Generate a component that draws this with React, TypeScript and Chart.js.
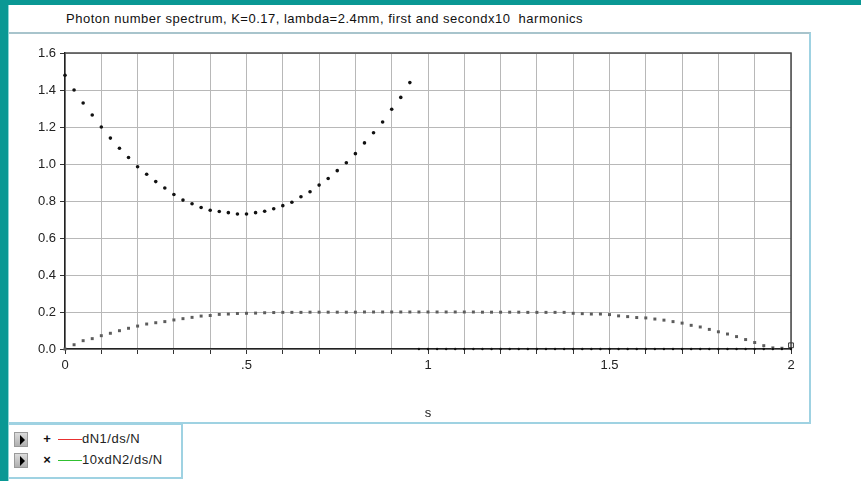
import React, { useEffect, useRef } from "react";
import { Chart, registerables } from "chart.js";

Chart.register(...registerables);

// Sample positions along s (step 0.025 from 0 to 2)
const sGrid = [
  0, 0.025, 0.05, 0.075, 0.1, 0.125, 0.15, 0.175, 0.2, 0.225,
  0.25, 0.275, 0.3, 0.325, 0.35, 0.375, 0.4, 0.425, 0.45, 0.475,
  0.5, 0.525, 0.55, 0.575, 0.6, 0.625, 0.65, 0.675, 0.7, 0.725,
  0.75, 0.775, 0.8, 0.825, 0.85, 0.875, 0.9, 0.925, 0.95, 0.975,
  1.0, 1.025, 1.05, 1.075, 1.1, 1.125, 1.15, 1.175, 1.2, 1.225,
  1.25, 1.275, 1.3, 1.325, 1.35, 1.375, 1.4, 1.425, 1.45, 1.475,
  1.5, 1.525, 1.55, 1.575, 1.6, 1.625, 1.65, 1.675, 1.7, 1.725,
  1.75, 1.775, 1.8, 1.825, 1.85, 1.875, 1.9, 1.925, 1.95, 1.975,
  2.0,
];

// First harmonic, dN1/ds/N
const dN1 = [
  1.48, 1.4, 1.33, 1.265, 1.2, 1.14, 1.085, 1.035, 0.985, 0.945,
  0.905, 0.87, 0.835, 0.805, 0.785, 0.765, 0.75, 0.743, 0.737, 0.73,
  0.73, 0.737, 0.745, 0.758, 0.775, 0.793, 0.823, 0.85, 0.886, 0.922,
  0.964, 1.007, 1.056, 1.114, 1.169, 1.227, 1.296, 1.36, 1.44, 0,
  0, 0, 0, 0, 0, 0, 0, 0, 0, 0,
  0, 0, 0, 0, 0, 0, 0, 0, 0, 0,
  0, 0, 0, 0, 0, 0, 0, 0, 0, 0,
  0, 0, 0, 0, 0, 0, 0, 0, 0, 0,
  0,
];

// Second harmonic scaled by 10, 10xdN2/ds/N
const dN2x10 = [
  0, 0.023, 0.045, 0.056, 0.072, 0.085, 0.099, 0.112, 0.124, 0.135,
  0.142, 0.148, 0.157, 0.164, 0.171, 0.178, 0.181, 0.187, 0.189, 0.192,
  0.193, 0.194, 0.196, 0.197, 0.198, 0.198, 0.198, 0.199, 0.199, 0.199,
  0.199, 0.199, 0.199, 0.2, 0.2, 0.2, 0.2, 0.2, 0.2, 0.2,
  0.2, 0.2, 0.2, 0.2, 0.2, 0.2, 0.199, 0.199, 0.199, 0.199,
  0.199, 0.198, 0.198, 0.198, 0.198, 0.198, 0.193, 0.191, 0.189, 0.189,
  0.186, 0.179, 0.175, 0.17, 0.168, 0.162, 0.156, 0.148, 0.14, 0.128,
  0.119, 0.106, 0.093, 0.081, 0.067, 0.051, 0.035, 0.018, 0.006, 0.004,
  0.02,
];

const titleText = "Photon number spectrum, K=0.17, lambda=2.4mm, first and secondx10  harmonics";
const seriesNames = ["dN1/ds/N", "10xdN2/ds/N"];
const seriesSymbols = ["+", "×"];
const seriesLineColors = ["#e83030", "#30c030"];
const xTickLabels: Record<string, string> = { "0": "0", "0.5": ".5", "1": "1", "1.5": "1.5", "2": "2" };
const xAxisTitle = "s";

const FONT = "'Liberation Sans', Arial, sans-serif";
const TEAL = "#0a9894";
const PANEL_BORDER = "#9fd2e2";

// Dark frame on the top and right edges of the plot area
const framePlugin = {
  id: "plotFrame",
  beforeDatasetsDraw(chart: any) {
    const { ctx, chartArea: a } = chart;
    ctx.save();
    ctx.strokeStyle = "#4a4a4a";
    ctx.lineWidth = 1.5;
    ctx.beginPath();
    ctx.moveTo(a.left, a.top);
    ctx.lineTo(a.right, a.top);
    ctx.lineTo(a.right, a.bottom);
    ctx.stroke();
    ctx.restore();
  },
};

function LegendRow({ idx, top }: { idx: number; top: number }) {
  return (
    <div style={{ position: "absolute", left: 0, top, width: 170, height: 16 }}>
      <div
        style={{
          position: "absolute",
          left: 5,
          top: 0,
          width: 14,
          height: 15,
          background: "linear-gradient(#dcdcdc, #b0b0b0)",
          border: "1px solid #9a9a9a",
          boxSizing: "border-box",
        }}
      >
        <div
          style={{
            position: "absolute",
            left: 5,
            top: 2,
            width: 0,
            height: 0,
            borderTop: "5px solid transparent",
            borderBottom: "5px solid transparent",
            borderLeft: "5px solid #000",
          }}
        />
      </div>
      <span
        style={{
          position: "absolute",
          left: 31,
          top: -1,
          width: 14,
          textAlign: "center",
          fontSize: 13,
          fontWeight: "bold",
          color: "#111",
        }}
      >
        {seriesSymbols[idx]}
      </span>
      <div style={{ position: "absolute", left: 49, top: 7, width: 24, height: 1, background: seriesLineColors[idx] }} />
      <span
        style={{
          position: "absolute",
          left: 73,
          top: -1,
          fontSize: 13,
          letterSpacing: 0.5,
          color: "#222",
          whiteSpace: "pre",
        }}
      >
        {seriesNames[idx]}
      </span>
    </div>
  );
}

export default function App() {
  const canvasRef = useRef<HTMLCanvasElement | null>(null);

  useEffect(() => {
    if (!canvasRef.current) return;
    const n = sGrid.length;
    const chart = new Chart(canvasRef.current, {
      type: "scatter",
      data: {
        datasets: [
          {
            label: seriesNames[0],
            data: sGrid.map((s, i) => ({ x: s, y: dN1[i] })),
            pointStyle: "circle",
            pointRadius: sGrid.map((_, i) => (dN1[i] === 0 ? 1.2 : 1.8)),
            pointBackgroundColor: "#111",
            pointBorderWidth: 0,
            showLine: false,
            clip: false,
          },
          {
            label: seriesNames[1],
            data: sGrid.map((s, i) => ({ x: s, y: dN2x10[i] })),
            pointStyle: "rect",
            pointRadius: sGrid.map((_, i) => (i === n - 1 ? 3.4 : 2.1)),
            pointBackgroundColor: sGrid.map((_, i) => (i === n - 1 ? "rgba(0,0,0,0)" : "#5c5c5c")),
            pointBorderColor: "#333",
            pointBorderWidth: sGrid.map((_, i) => (i === n - 1 ? 1 : 0)),
            showLine: false,
            clip: false,
          },
        ],
      },
      options: {
        responsive: true,
        maintainAspectRatio: false,
        animation: false,
        layout: { padding: { top: 53, right: 70, left: 0, bottom: 0 } },
        plugins: {
          legend: { display: false },
          title: { display: false },
          tooltip: { enabled: false },
        },
        scales: {
          x: {
            type: "linear",
            min: 0,
            max: 2,
            afterFit: (scale: any) => {
              scale.height = 132;
            },
            ticks: {
              stepSize: 0.1,
              autoSkip: false,
              maxRotation: 0,
              padding: 4,
              color: "#222",
              font: { family: FONT, size: 13 },
              callback: (v: any) => {
                const key = String(Math.round(Number(v) * 10) / 10);
                return xTickLabels[key] ?? "";
              },
            },
            grid: {
              color: "#b8b8b8",
              lineWidth: 1,
              tickLength: 5,
              tickColor: "#333",
            },
            border: { display: true, color: "#222", width: 1.5 },
            title: {
              display: true,
              text: xAxisTitle,
              color: "#222",
              font: { family: FONT, size: 13 },
              padding: { top: 0, bottom: 60 },
            },
          },
          y: {
            type: "linear",
            min: 0,
            max: 1.6,
            afterFit: (scale: any) => {
              scale.width = 65;
            },
            ticks: {
              stepSize: 0.2,
              padding: 4,
              color: "#222",
              font: { family: FONT, size: 13 },
              callback: (v: any) => Number(v).toFixed(1),
            },
            grid: {
              color: "#b8b8b8",
              lineWidth: 1,
              tickLength: 5,
              tickColor: "#333",
            },
            border: { display: true, color: "#222", width: 1.5 },
          },
        },
      },
      plugins: [framePlugin],
    });
    return () => chart.destroy();
  }, []);

  return (
    <div
      style={{
        position: "fixed",
        left: 0,
        top: 0,
        width: 861,
        height: 481,
        background: "#fff",
        overflow: "hidden",
        fontFamily: FONT,
      }}
    >
      {/* window chrome */}
      <div style={{ position: "absolute", left: 0, top: 0, width: 861, height: 5, background: TEAL }} />
      <div style={{ position: "absolute", left: 0, top: 0, width: 8, height: 481, background: TEAL }} />
      <div style={{ position: "absolute", left: 8, top: 5, width: 1, height: 476, background: "#8fd6d6" }} />

      {/* title */}
      <div
        style={{
          position: "absolute",
          left: 66,
          top: 11,
          fontSize: 13,
          color: "#111",
          whiteSpace: "pre",
          letterSpacing: 0.5,
        }}
      >
        {titleText}
      </div>

      {/* plot panel */}
      <div
        style={{
          position: "absolute",
          left: 9,
          top: 32,
          width: 802,
          height: 392,
          boxSizing: "border-box",
          borderTop: "2px solid #a8c4cc",
          borderRight: `2px solid ${PANEL_BORDER}`,
          borderBottom: `2px solid ${PANEL_BORDER}`,
        }}
      />

      {/* legend */}
      <div
        style={{
          position: "absolute",
          left: 9,
          top: 423,
          width: 174,
          height: 56,
          boxSizing: "border-box",
          border: `2px solid ${PANEL_BORDER}`,
          borderLeft: "none",
        }}
      >
        <LegendRow idx={0} top={7} />
        <LegendRow idx={1} top={28} />
      </div>

      <div style={{ position: "absolute", left: 0, top: 0, width: 861, height: 481 }}>
        <canvas ref={canvasRef} />
      </div>
    </div>
  );
}
